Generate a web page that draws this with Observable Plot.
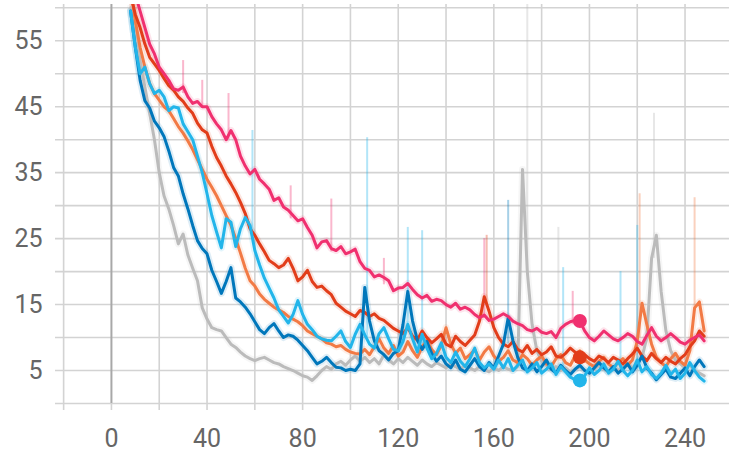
<!DOCTYPE html>
<html><head><meta charset="utf-8">
<script src="https://cdn.jsdelivr.net/npm/d3@7"></script>
<script src="https://cdn.jsdelivr.net/npm/@observablehq/plot@0.6"></script>
<style>body{margin:0;background:#fff;}</style>
</head><body><div id="chart"></div>
<script>
// training steps (x categories): 8, 10, ..., 248
const steps = d3.range(8, 250, 2);

// smoothed values per run (one value per step)
const greyRun = [60,56,52,48,44,40,35,31.5,29.5,27,
 24.2,25.7,22.5,20.5,18.6,14.5,12.8,11.5,11.2,11,
 10,9,8.5,7.8,7.2,6.8,6.5,6.8,7,6.6,
 6.2,6,5.6,5.3,5,4.6,4.2,4,3.5,4.2,
 5,5.6,5.2,6,6.4,5.8,6.6,7.2,6.4,7,
 6.2,6.8,6,7.4,6.6,6,6.8,6.2,7,6.4,
 5.8,6.6,6,5.6,6.2,5.8,5.4,6,5.6,5.2,
 5.8,5.4,5,5.6,5.2,4.8,5.4,5,5.6,5.2,
 5,5.6,35.5,20,12,8,6.4,5.8,5.2,5.6,
 5,5.4,4.8,5.2,5.6,5,4.6,5.2,5.8,5.2,
 4.8,5.4,5,5.6,6,5.4,6.2,7,10,22,
 25.5,17,11,8,6.6,6,5.4,5.8,5,4.6,
 4.2];
const orangeRun = [63,58,54,51,48.5,47,46,45,44.4,43.2,
 42,41,39.8,38.5,37,35.5,34,32.8,31.5,30,
 28.5,27,25,22.8,20.5,18.6,17.8,16.6,15.8,15.2,
 14.6,14.2,13.8,13.2,12.8,12.4,11.8,11,10.6,10.2,
 9.8,9.2,9,8.6,8.8,8.2,7.8,7.6,7.5,8.2,
 7.4,8.6,9.8,8.4,7.6,8.8,7.2,7.8,9.4,8,
 7,8.6,9.6,8.2,7.4,8.8,11.5,9,7.6,8.4,
 6.8,7.4,8.2,6.6,7.8,8.6,7.2,6.4,7,8,
 6.6,6.2,7.4,6.8,5.8,6.6,7.2,6,5.6,6.8,
 7.4,6.2,5.8,7.2,8,6.6,6,5.6,6.4,7,
 6,5.4,6.2,6.8,5.8,6.6,9.5,15.2,12,9,
 7,6.2,5.6,6.8,7.6,6.4,5.8,8,14.5,15.4,
 11];
const redRun = [62,59,57,54.5,52.5,51.5,50.5,49.3,48.2,47.5,
 46.5,45.8,44.8,44,42.5,41.5,41,39,37.3,36,
 34.5,33.3,32,30.5,28.8,26.5,25.5,24.2,23,21.7,
 21.2,20.6,21,22,20.5,18.6,19.2,20.2,18.5,17.6,
 17.8,17.1,16.5,15.2,14.6,14,13.6,13.2,14.1,13.8,
 13.2,13.6,12.9,12.6,12,11.4,11,10.6,11.5,10.2,
 9.6,11,10,9.2,9.8,10.5,9,8.6,10.2,9.4,
 8.8,9.6,10.4,12.5,16.2,14,11.5,10,9,8.6,
 9.4,8.2,7.8,8.8,7.6,8.2,7.4,7.8,8.6,7.2,
 7,7.6,8.4,7.8,7,7.4,6.8,6.4,7.2,6.8,
 6.2,7,6.6,6,6.8,7.5,8.4,7.2,6.5,7.6,
 6.8,6.2,7,6.4,6,6.8,7.4,8.6,9.5,11,
 10.2];
const blueRun = [59.5,54,49,45.9,44.8,42.8,41.8,40.5,38.3,35.8,
 34.5,31.8,29.5,27,24.7,23.5,22.7,20.2,18.5,16.7,
 18.5,20.6,16,15.4,14.6,13.6,12.4,11.2,10.6,11.5,
 12.1,11,10,10.4,10.2,9.6,8.8,8,7,6,
 6.4,7,6.2,5.5,5.4,5,5.2,5,6,17.6,
 12.5,9.5,8,7.4,6.6,7.6,8,12,17,12.5,
 9.6,8.2,9.4,7.6,6.4,7.2,6,5.4,6.6,5.2,
 4.8,5.8,6.8,5.6,5,6.2,5.4,7.2,9,13,
 9.5,7,5.4,5,6,4.8,5.6,6.6,5.2,4.6,
 5.8,5,4.4,5.2,5.8,5,4.6,5.4,6.2,5.4,
 4.8,5.6,4.6,5.2,6,4.8,5.8,7.2,5.4,4.6,
 3.6,4.4,5.2,4,3.8,4.6,5.4,4.2,5.6,6.6,
 5.6];
const cyanRun = [59.5,54,50,51,48.5,47,47.5,46.5,44.4,45,
 44.8,42.4,41.2,40,37.5,35,31.8,28.5,26,23.6,
 28,27.5,23.8,26.5,28.2,27,23.2,21,19,17.5,
 16,14.2,13.2,12.2,13.5,15.6,13.5,12,11.2,10.2,
 9.8,9.6,9.5,10.2,11,9.4,8.5,10.5,12,10.4,
 9,8.4,10.6,11.5,9.8,8.2,8,9.4,12,9.8,
 7.8,10.5,8.4,6.8,7.6,9.2,7,6.2,7.8,6.4,
 5.6,6.8,8.4,6.2,5.4,6,5.2,6.6,5.4,6.8,
 5,5.8,6.6,4.8,5.4,6.2,4.6,5.2,6,4.4,
 5.6,4.8,4,3.6,3.5,4.2,5.4,4.4,5,6,
 4.6,5.2,6.4,5,4.2,5,6.6,4.8,5.6,4.4,
 3.8,4.6,5.8,4.4,5.2,3.8,4.6,6.2,5,4,
 3.4];
const pinkRun = [66,62,59.5,57,54.5,53,51,50,49,47.7,
 47.5,48,46.5,45.5,45.8,45,45,43.5,42.4,41.5,
 40,41.4,40,37.5,36,34.8,35.5,34,33.3,32.5,
 30.8,31.2,29.8,29.3,28.5,27.7,28,26.7,25.5,23.6,
 24.5,24.7,23.5,23.2,23.8,22.7,23,23.4,21.5,20.5,
 20.2,19.2,19.5,19.1,18.6,17.1,17.5,17.6,18.2,17.3,
 16.5,16,16.4,15.5,15.8,15.6,15,14.6,15.2,14.3,
 14.6,14.2,13.5,13,13.4,12.6,12.8,13.2,13.6,13.2,
 12.5,12.1,11.8,11.2,11,11.4,10.8,10.6,10.9,10,
 11.4,12,12.4,12.6,12.5,11,10,9.5,10.2,11,
 10.4,9.8,9.5,10,10.6,10.2,9.4,9,10.3,11.5,
 10.2,9.5,10,10.6,10,9.3,9,9.6,10,10.4,
 9.5];

// raw (unsmoothed) spikes: run, step, from, to
const spikeRun  = ["pink","pink","pink","pink","pink","pink","pink","pink",
  "cyan","cyan","cyan","cyan","cyan","cyan","cyan","blue","grey","grey","grey","orange","orange","red"];
const spikeStep = [30,38,49,75,92,114,156,193, 59,107,124,130,189,213,220, 166, 187,227,174, 221,244, 157];
const spikeFrom = [47,45,40,28,23,18,13,12, 26,10,11,9,5,5,6, 9, 5,22,20, 10,14, 15];
const spikeTo   = [52,49,47,33,31,22,25,17, 41.4,40.3,26.7,26.2,20.6,20,27, 30.8, 26.7,44,61, 31.8,31.2, 25.5];

// hover marker
const hoverStep = 196;
const hoverRuns = ["red","cyan","pink"];

const xTicks = [-20,0,20,40,60,80,100,120,140,160,180,200,220,240];
const xLabels = [0,40,80,120,160,200,240];
const yGrid = [0,5,10,15,20,25,30,35,40,45,50,55,60];
const yLabels = [5,15,25,35,45,55];

const runs = [
  {name:"grey", values:greyRun, color:"#bbbbbb"},
  {name:"orange", values:orangeRun, color:"#f27a45"},
  {name:"red", values:redRun, color:"#e23d1a"},
  {name:"blue", values:blueRun, color:"#0077bb"},
  {name:"cyan", values:cyanRun, color:"#22b5ea"},
  {name:"pink", values:pinkRun, color:"#f0306f"}
];
const colorOf = Object.fromEntries(runs.map(r => [r.name, r.color]));
const rows = runs.flatMap(r => r.values.map((v, i) => ({run: r.name, step: steps[i], value: v})));
const spikes = spikeRun.map((r, i) => ({run: r, step: spikeStep[i], from: spikeFrom[i], to: spikeTo[i]}));
const hovers = rows.filter(d => d.step === hoverStep && hoverRuns.includes(d.run));

const marks = [
  Plot.ruleY(yGrid, {stroke: "#d3d3d3", strokeWidth: 1.6}),
  Plot.ruleX(xTicks.filter(d => d !== 0), {y1: 0, y2: 60.5, stroke: "#d3d3d3", strokeWidth: 1.6}),
  Plot.ruleX([0], {y1: 0, y2: 60.5, stroke: "#a8a8a8", strokeWidth: 2}),
  Plot.axisX({ticks: xTicks, tickFormat: d => xLabels.includes(d) ? String(d) : "", tickSize: 7,
    tickPadding: 19, stroke: "#d3d3d3", strokeWidth: 1.6, fill: "#666", fontSize: 25, label: null}),
  Plot.axisY({ticks: yLabels, tickSize: 0, tickPadding: 13, fill: "#666", fontSize: 25, label: null})
];
for (const r of runs) {
  marks.push(Plot.line(rows.filter(d => d.run === r.name), {x: "step", y: "value", stroke: r.color,
    strokeWidth: 7, strokeOpacity: 0.13, clip: true}));
}
for (const r of runs) {
  marks.push(Plot.ruleX(spikes.filter(d => d.run === r.name), {x: "step", y1: "from", y2: "to",
    stroke: r.color, strokeWidth: 2, strokeOpacity: 0.35, clip: true}));
}
for (const r of runs) {
  marks.push(Plot.line(rows.filter(d => d.run === r.name), {x: "step", y: "value", stroke: r.color,
    strokeWidth: 3, strokeLinejoin: "round", clip: true}));
}
marks.push(Plot.dot(hovers, {x: "step", y: "value", r: 7, fill: d => colorOf[d.run], stroke: "none"}));

const chart = Plot.plot({
  width: 729, height: 453,
  marginLeft: 55, marginRight: 0, marginTop: 4, marginBottom: 50,
  style: {fontFamily: "Roboto, sans-serif", fontSize: "25px", color: "#666", background: "#fff"},
  x: {domain: [-23.4, 258.6], label: null},
  y: {domain: [0, 60.5], label: null},
  color: {type: "identity"},
  marks
});
document.getElementById("chart").appendChild(chart);
</script>
</body></html>
